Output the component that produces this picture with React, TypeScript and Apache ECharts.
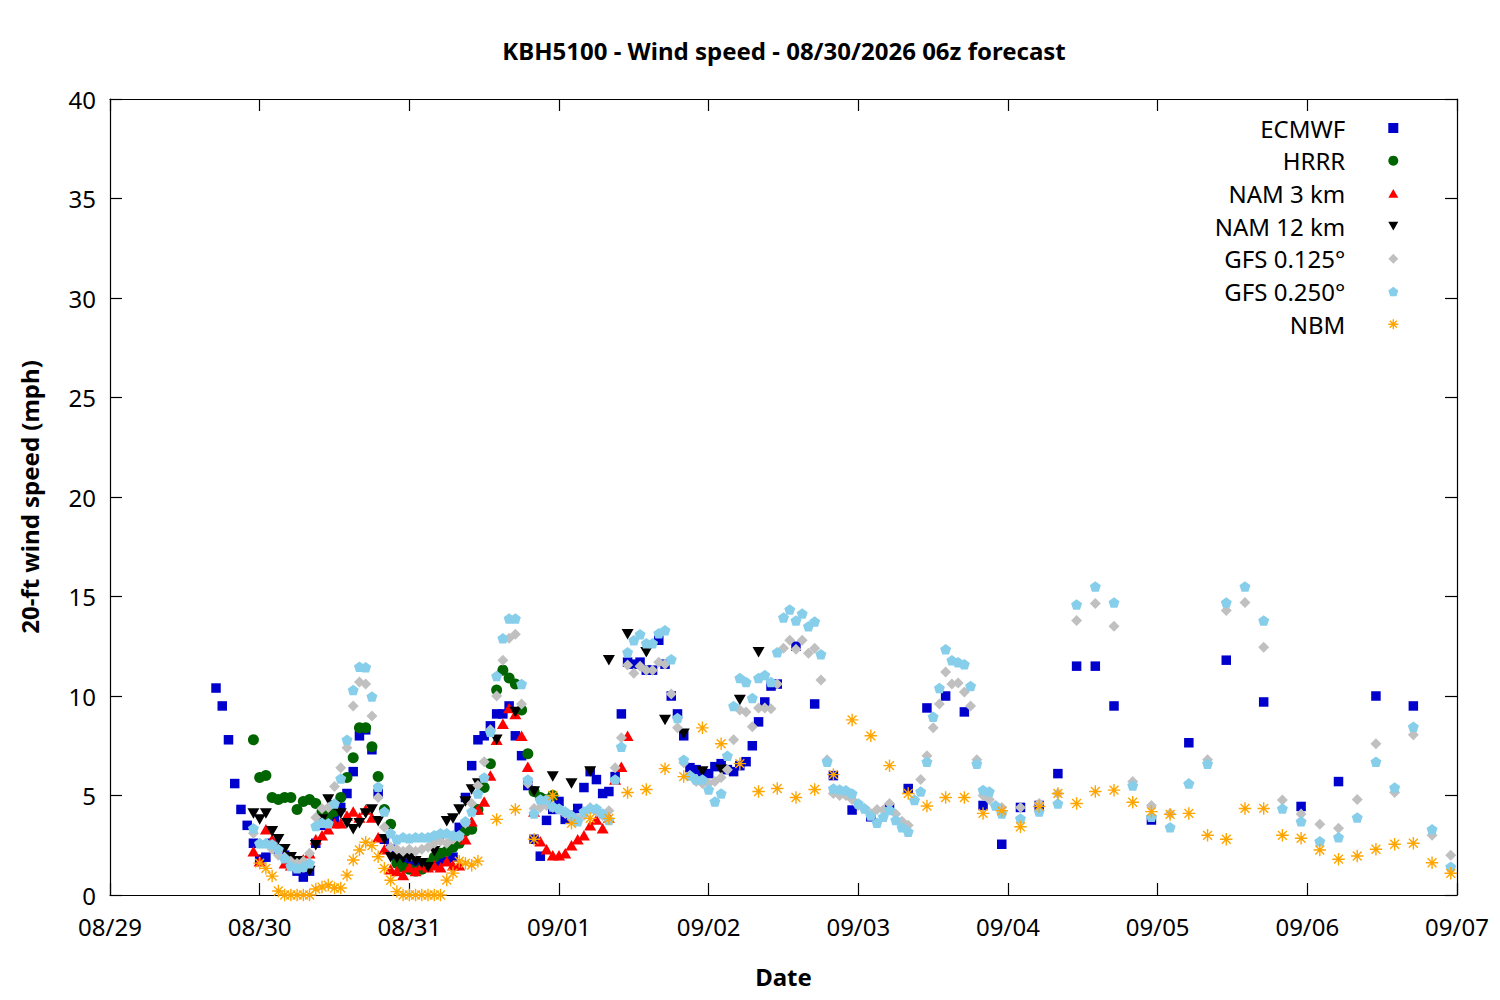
import React, { useEffect, useRef } from 'react';
import * as echarts from 'echarts';

// X axis: hours since 08/29 00:00, one label per day
const dateLabels = ['08/29', '08/30', '08/31', '09/01', '09/02', '09/03', '09/04', '09/05', '09/06', '09/07'];
const hoursPerDay = 24;

// ECMWF: hourly from hour 17, 3-hourly from 110, 6-hourly from 167
const ecmwfHourlyStart = 17;
const ecmwfHourly = [
  10.4, 9.5, 7.8, 5.6, 4.3, 3.5, 2.6, 1.8, 1.9, 2.6,
  2.3, 2.0, 1.5, 1.2, 0.9, 1.2, 2.6, 3.5, 4.0, 3.8,
  4.4, 5.1, 6.2, 8.0, 8.3, 7.3, 5.1, 2.8, 2.3, 1.8,
  1.6, 1.5, 1.4, 1.5, 1.6, 1.5, 1.7, 1.7, 1.9, 3.4,
  4.9, 6.5, 7.8, 8.0, 8.5, 9.1, 9.1, 9.5, 8.0, 7.0,
  5.5, 2.8, 1.95, 3.75, 4.3, 4.7, 3.8, 4.0, 4.35, 5.4,
  6.2, 5.8, 5.1, 5.2, 5.95, 9.1, 11.7, 11.6, 11.7, 11.3,
  11.3, 12.8, 11.6, 10.0, 9.1, 8.0, 6.4, 6.3, 6.1, 6.1,
  6.45, 6.6, 6.3, 6.2, 6.5, 6.7, 7.5, 8.7, 9.7, 10.5,
  10.6,
];
const ecmwf3hStart = 110;
const ecmwf3h = [12.5, 9.6, 6.0, 4.27, 3.93, 4.35, 5.35, 9.4, 10.0, 9.2, 4.5, 2.55, 4.4, 4.5, 6.1, 11.5, 11.5, 9.5];
const ecmwf6hStart = 167;
const ecmwf6h = [3.77, 7.65, 11.8, 9.7, 4.45, 5.7, 10.0, 9.5];

// HRRR: hourly from hour 23
const hrrrStart = 23;
const hrrr = [
  7.8, 5.9, 6.0, 4.9, 4.8, 4.9, 4.9, 4.3, 4.7, 4.8,
  4.6, 4.2, 4.0, 4.2, 4.9, 5.9, 6.9, 8.4, 8.4, 7.45,
  5.95, 4.3, 3.55, 1.6, 1.4, 1.3, 1.2, 1.3, 1.6, 1.9,
  2.1, 2.2, 2.4, 2.6, 3.2, 3.3, 4.3, 5.4, 6.6, 10.3,
  11.3, 10.9, 10.6, 9.3, 7.1, 5.2, 4.9, 4.8, 5.0,
];

// NAM 3 km: hourly from hour 23
const nam3Start = 23;
const nam3 = [
  2.2, 1.7, 3.3, 2.8, 2.4, 1.6, 1.5, 1.6, 1.8, 2.1,
  2.8, 3.0, 3.3, 3.6, 3.6, 4.0, 4.2, 3.9, 4.3, 3.9,
  2.9, 2.3, 1.3, 1.2, 1.0, 1.4, 1.2, 1.5, 1.4, 1.5,
  1.4, 1.7, 1.5, 1.5, 2.8, 3.7, 4.3, 4.7, 6.0, 7.8,
  8.6, 9.4, 9.1, 8.0, 6.45, 4.2, 2.7, 2.3, 2.0, 2.0,
  2.1, 2.5, 2.8, 3.0, 3.5, 3.8, 3.35, 3.9, 5.8, 6.45,
  8.0,
];

// NAM 12 km: hourly from hour 23, 3-hourly from 62
const nam12HourlyStart = 23;
const nam12Hourly = [
  4.1, 3.8, 4.1, 3.2, 2.8, 2.3, 1.9, 1.7, 1.5, 1.2,
  2.5, 3.8, 4.8, 4.5, 4.1, 3.6, 3.3, 3.6, 4.1, 4.3,
  3.7, 2.8, 1.9, 1.85, 1.85, 1.85, 1.7, 1.6, 1.4, 2.2,
  2.8, 3.7, 3.85, 4.3, 4.7, 5.3, 5.6,
];
const nam12_3hStart = 62;
const nam12_3h = [7.8, 9.2, 5.2, 5.95, 5.6, 6.2, 11.8, 13.1, 12.2, 8.8, 8.1, 6.2, 6.3, 9.8, 12.2];

// GFS 0.125°: hourly from hour 23, 3-hourly from 146
const gfs125HourlyStart = 23;
const gfs125Hourly = [
  3.1, 2.6, 2.6, 2.3, 2.0, 1.9, 1.7, 1.6, 1.7, 2.1,
  3.9, 4.35, 4.4, 5.45, 6.4, 7.4, 9.5, 10.7, 10.6, 9.0,
  4.9, 3.4, 2.4, 2.3, 2.2, 2.3, 2.2, 2.3, 2.4, 2.6,
  2.7, 2.6, 2.8, 2.9, 3.6, 4.6, 5.5, 6.7, 8.3, 10.0,
  11.8, 12.9, 13.1, 9.6, 5.6, 4.35, 4.4, 4.5, 4.4, 4.3,
  4.1, 3.9, 3.85, 4.0, 4.4, 4.2, 4.0, 4.23, 6.4, 7.9,
  11.56, 11.14, 11.5, 11.3, 11.3, 11.7, 11.6, 10.1, 8.4, 6.65,
  6.0, 5.7, 5.6, 5.6, 5.7, 5.9, 6.3, 7.8, 9.3, 9.2,
  8.45, 9.4, 9.4, 9.36, 10.6, 12.4, 12.8, 12.35, 12.8, 12.15,
  12.4, 10.8, 6.8, 5.1, 5.0, 5.0, 4.8, 4.5, 4.35, 4.1,
  4.3, 4.27, 4.6, 4.07, 3.7, 3.5, 4.8, 5.8, 7.0, 8.4,
  9.6, 11.2, 10.6, 10.65, 10.2, 9.5, 6.8, 5.0, 4.8, 4.5,
  4.4,
];
const gfs125_3hStart = 146;
const gfs125_3h = [4.4, 4.6, 5.1, 13.8, 14.65, 13.5, 5.7, 4.5, 4.1, 5.6, 6.8, 14.3, 14.7, 12.45, 4.77, 4.07, 3.55, 3.35, 4.8, 7.6, 5.15, 8.05, 3.0, 2.0];

// GFS 0.250°: hourly from hour 23, 3-hourly from 146
const gfs250HourlyStart = 23;
const gfs250Hourly = [
  3.35, 2.6, 2.6, 2.55, 2.3, 1.85, 1.46, 1.34, 1.42, 1.6,
  3.47, 3.63, 3.6, 4.6, 5.86, 7.8, 10.3, 11.47, 11.44, 9.97,
  5.44, 4.19, 3.1, 2.8, 2.9, 2.85, 2.9, 2.9, 2.9, 3.0,
  3.1, 3.1, 3.0, 3.0, 3.7, 4.2, 5.1, 5.9, 8.2, 11.0,
  12.9, 13.9, 13.9, 10.6, 5.8, 4.1, 4.8, 4.8, 4.45, 4.35,
  4.2, 4.0, 3.7, 4.2, 4.35, 4.35, 4.1, 3.77, 5.8, 7.45,
  12.2, 12.8, 13.1, 12.65, 12.65, 13.15, 13.3, 11.85, 8.9, 6.8,
  6.0, 5.8, 5.8, 5.3, 4.7, 5.1, 7.0, 9.5, 10.9, 10.7,
  9.9, 10.9, 11.05, 10.7, 12.2, 13.95, 14.35, 13.8, 14.15, 13.5,
  13.75, 12.1, 6.7, 5.35, 5.3, 5.27, 5.1, 4.6, 4.35, 4.0,
  3.63, 3.93, 4.27, 3.77, 3.4, 3.18, 4.77, 5.2, 6.7, 8.96,
  10.4, 12.35, 11.8, 11.7, 11.6, 10.5, 6.6, 5.28, 5.2, 4.5,
  4.1,
];
const gfs250_3hStart = 146;
const gfs250_3h = [3.85, 4.2, 4.6, 14.6, 15.5, 14.7, 5.5, 3.93, 3.4, 5.6, 6.6, 14.7, 15.5, 13.8, 4.35, 3.7, 2.7, 2.9, 3.9, 6.7, 5.4, 8.45, 3.3, 1.42];

// NBM: hourly from hour 24, 3-hourly from 62
const nbmHourlyStart = 24;
const nbmHourly = [
  1.6, 1.34, 0.95, 0.2, 0, 0, 0, 0, 0, 0.3,
  0.4, 0.5, 0.35, 0.35, 1.0, 1.76, 2.26, 2.65, 2.48, 1.92,
  1.34, 0.74, 0.17, 0, 0, 0, 0, 0, 0, 0,
  0.75, 1.1, 1.7, 1.6, 1.5, 1.7,
];
const nbm3hStart = 62;
const nbm3h = [
  3.8, 4.3, 2.8, 5.0, 3.6, 3.85, 3.85, 5.15, 5.3, 6.35,
  5.95, 8.4, 7.6, 6.6, 5.2, 5.35, 4.9, 5.3, 6.05, 8.8,
  8.0, 6.5, 5.1, 4.47, 4.9, 4.9, 4.1, 4.23, 3.43, 4.45,
  5.1, 4.6, 5.2, 5.27, 4.66, 4.19, 4.05, 4.1, 3.0, 2.8,
  4.35, 4.35, 3.0, 2.85, 2.26, 1.8, 1.96, 2.3, 2.55, 2.6,
  1.62, 1.09,
];

const pts = (start: number, step: number, vals: number[]) => vals.map((v, i) => [start + i * step, v]);

const FONT = 'Noto Sans';
const FS = 24;
const DOWN_TRI = 'path://M-1,-0.866L1,-0.866L0,0.866Z';
const UP_TRI = 'path://M0,-0.866L1,0.866L-1,0.866Z';
const PENTAGON = 'path://M0,-1L0.951,-0.309L0.588,0.809L-0.588,0.809L-0.951,-0.309Z';
const STAR = 'path://M0,-1L0,1M-1,0L1,0M-0.707,-0.707L0.707,0.707M-0.707,0.707L0.707,-0.707';

export default function App() {
  const ref = useRef<HTMLDivElement>(null);
  useEffect(() => {
    if (!ref.current) return;
    const chart = echarts.init(ref.current, undefined, { renderer: 'svg' });
    const axisCommon = {
      type: 'value' as const,
      axisLine: { show: true, onZero: false, lineStyle: { color: '#000', width: 1.2 } },
      axisTick: { show: true, inside: true, length: 12, lineStyle: { color: '#000', width: 1.2 } },
      splitLine: { show: false },
    };
    const dayFmt = (v: number) => dateLabels[Math.round(v / hoursPerDay)] ?? '';
    const scatter = (name: string, data: number[][], symbol: string, size: number | number[], color: string, extra: any = {}) => ({
      name,
      type: 'scatter',
      data,
      symbol,
      symbolSize: size,
      itemStyle: { color, opacity: 1, ...(extra.itemStyle || {}) },
      silent: true,
      clip: false,
      emphasis: { disabled: true },
    });
    chart.setOption({
      animation: false,
      backgroundColor: '#fff',
      textStyle: { fontFamily: FONT, color: '#000' },
      title: {
        text: 'KBH5100 - Wind speed - 08/30/2026 06z forecast',
        left: 779,
        top: 33,
        textAlign: 'center',
        textStyle: { fontFamily: FONT, fontSize: FS, fontWeight: 'bold', color: '#000', lineHeight: 24 },
      },
      grid: { left: 110, right: 43, top: 99, bottom: 105, containLabel: false },
      legend: {
        orient: 'vertical',
        right: 101,
        top: 116,
        padding: 0,
        align: 'right',
        itemWidth: 10,
        itemHeight: 10,
        itemGap: 8.7,
        selectedMode: false,
        textStyle: { fontFamily: FONT, fontSize: FS, color: '#000', lineHeight: 24, padding: [0, 38, 0, 0] },
        data: [
          'ECMWF', 'HRRR', 'NAM 3 km', 'NAM 12 km', 'GFS 0.125°', 'GFS 0.250°',
          { name: 'NBM', itemStyle: { borderWidth: 1.4 } },
        ],
      },
      xAxis: [
        {
          ...axisCommon,
          position: 'bottom',
          min: 0,
          max: 216,
          interval: 24,
          axisLabel: { formatter: dayFmt, fontSize: FS, color: '#000', margin: 19, fontFamily: FONT },
          name: 'Date',
          nameLocation: 'middle',
          nameGap: 69,
          nameTextStyle: { fontSize: FS, fontWeight: 'bold', color: '#000', fontFamily: FONT, lineHeight: 24 },
        },
        {
          ...axisCommon,
          position: 'top',
          min: 0,
          max: 216,
          interval: 24,
          axisLabel: { show: false },
        },
      ],
      yAxis: [
        {
          ...axisCommon,
          position: 'left',
          min: 0,
          max: 40,
          interval: 5,
          axisLabel: { fontSize: FS, color: '#000', margin: 14, fontFamily: FONT },
          name: '20-ft wind speed (mph)',
          nameLocation: 'middle',
          nameGap: 69,
          nameTextStyle: { fontSize: FS, fontWeight: 'bold', color: '#000', fontFamily: FONT, lineHeight: 24 },
        },
        {
          ...axisCommon,
          position: 'right',
          min: 0,
          max: 40,
          interval: 5,
          axisLabel: { show: false },
        },
      ],
      series: [
        scatter('ECMWF', [...pts(ecmwfHourlyStart, 1, ecmwfHourly), ...pts(ecmwf3hStart, 3, ecmwf3h), ...pts(ecmwf6hStart, 6, ecmwf6h)], 'rect', 9.5, '#0000cc'),
        scatter('HRRR', pts(hrrrStart, 1, hrrr), 'circle', 11, '#006400'),
        scatter('NAM 3 km', pts(nam3Start, 1, nam3), UP_TRI, [12, 10.5], '#ff0000'),
        scatter('NAM 12 km', [...pts(nam12HourlyStart, 1, nam12Hourly), ...pts(nam12_3hStart, 3, nam12_3h)], DOWN_TRI, [12, 10.5], '#000000'),
        scatter('GFS 0.125°', [...pts(gfs125HourlyStart, 1, gfs125Hourly), ...pts(gfs125_3hStart, 3, gfs125_3h)], 'diamond', 11, '#c0c0c0'),
        scatter('GFS 0.250°', [...pts(gfs250HourlyStart, 1, gfs250Hourly), ...pts(gfs250_3hStart, 3, gfs250_3h)], PENTAGON, [11, 10.5], '#87ceeb'),
        scatter('NBM', [...pts(nbmHourlyStart, 1, nbmHourly), ...pts(nbm3hStart, 3, nbm3h)], STAR, 12.5, '#ffa500', {
          itemStyle: { borderColor: '#ffa500', borderWidth: 1.4 },
        }),
      ],
    });
    return () => chart.dispose();
  }, []);
  return <div ref={ref} style={{ position: 'absolute', left: 0, top: 0, width: 1500, height: 1000 }} />;
}
